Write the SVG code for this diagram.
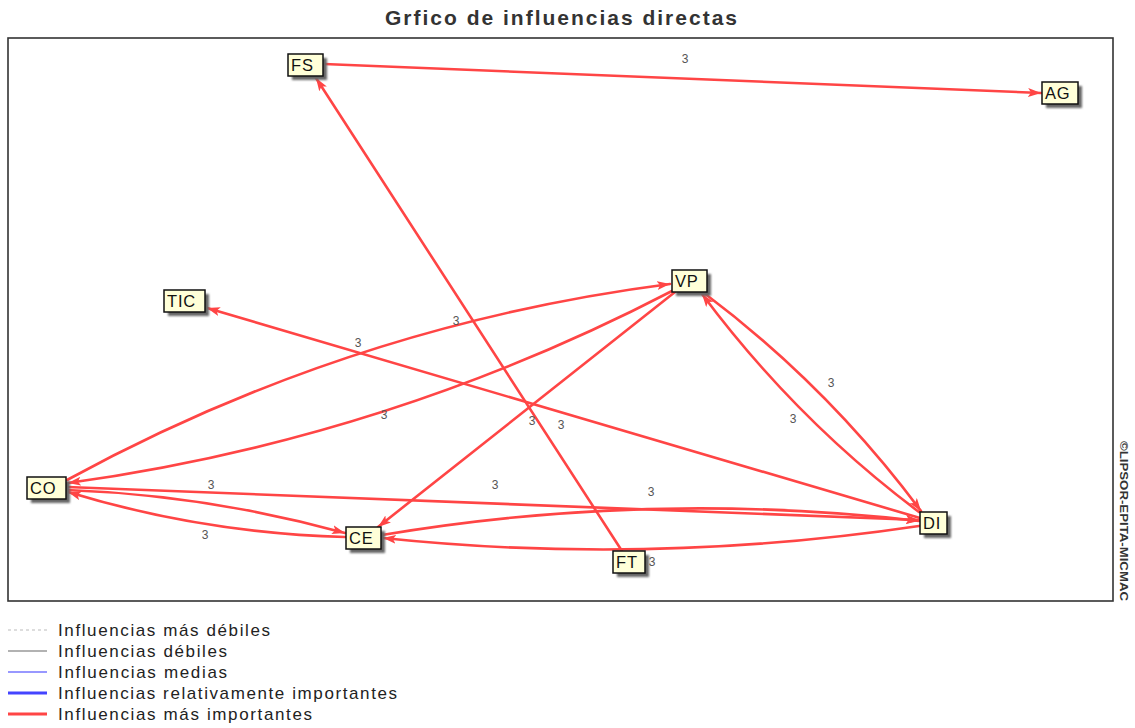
<svg xmlns="http://www.w3.org/2000/svg" width="1135" height="728" viewBox="0 0 1135 728">
<defs>
<style>
.edge{fill:none;stroke:#FF4545;stroke-width:2.6;stroke-linecap:round}
.lbl{font-family:"Liberation Sans",Arial,sans-serif;font-size:12px;fill:#555;text-anchor:middle}
.box{fill:#FFFFD8;stroke:#111;stroke-width:1.5}
.shadow{fill:#666;filter:url(#blur)}
.ntxt{font-family:"Liberation Sans",Arial,sans-serif;font-size:16.5px;fill:#111;letter-spacing:0.8px}
.leg{font-family:"Liberation Sans",Arial,sans-serif;font-size:17px;fill:#222}
</style>
<filter id="blur" x="-20%" y="-20%" width="140%" height="140%"><feGaussianBlur stdDeviation="1"/></filter>
<marker id="arr" markerUnits="userSpaceOnUse" markerWidth="16" markerHeight="10" refX="13" refY="4.5" orient="auto">
<path d="M0,0 L13,4.5 L0,9 L3,4.5 z" fill="#FF4545"/>
</marker>
</defs>
<rect x="0" y="0" width="1135" height="728" fill="#fff"/>
<text x="561" y="25" font-family="'Liberation Sans',Arial,sans-serif" font-size="21" font-weight="bold" fill="#333" text-anchor="middle" textLength="352" lengthAdjust="spacing">Grfico de influencias directas</text>
<rect x="8" y="38" width="1105" height="563" fill="none" stroke="#333" stroke-width="1.6"/>
<text transform="translate(1120,521) rotate(90)" font-family="'Liberation Sans',Arial,sans-serif" font-size="11" font-weight="bold" fill="#333" text-anchor="middle" textLength="160" lengthAdjust="spacingAndGlyphs">©LIPSOR-EPITA-MICMAC</text>
<g id="connectors">
<path class="edge" marker-end="url(#arr)" d="M324,64 L1041,93"/>
<path class="edge" marker-end="url(#arr)" d="M622,551 L316,78"/>
<path class="edge" marker-end="url(#arr)" d="M920,518 L207,308"/>
<path class="edge" marker-end="url(#arr)" d="M67,480 Q351,325 670,284"/>
<path class="edge" marker-end="url(#arr)" d="M672,291 Q387,439 68,483"/>
<path class="edge" marker-end="url(#arr)" d="M675,292 L378,527"/>
<path class="edge" marker-end="url(#arr)" d="M704,293 Q828,386 921,511"/>
<path class="edge" marker-end="url(#arr)" d="M919,512 Q796,420 702,294"/>
<path class="edge" marker-end="url(#arr)" d="M67,490 Q207,495 345,533"/>
<path class="edge" marker-end="url(#arr)" d="M345,537 Q202,533 68,492"/>
<path class="edge" marker-end="url(#arr)" d="M67,487 L919,520"/>
<path class="edge" marker-end="url(#arr)" d="M382,535 Q650,490 919,521"/>
<path class="edge" marker-end="url(#arr)" d="M919,526 Q650,566 383,538"/>
</g>
<g id="labels">
<text class="lbl" x="685" y="63">3</text>
<text class="lbl" x="358" y="347">3</text>
<text class="lbl" x="456" y="325">3</text>
<text class="lbl" x="384" y="419">3</text>
<text class="lbl" x="532" y="425">3</text>
<text class="lbl" x="561" y="429">3</text>
<text class="lbl" x="831" y="387">3</text>
<text class="lbl" x="793" y="423">3</text>
<text class="lbl" x="211" y="489">3</text>
<text class="lbl" x="495" y="489">3</text>
<text class="lbl" x="651" y="496">3</text>
<text class="lbl" x="205" y="539">3</text>
<text class="lbl" x="652" y="566">3</text>
</g>
<g id="node-FS"><rect class="shadow" x="292" y="58" width="35" height="22"/><rect class="box" x="288" y="54" width="35" height="22"/><text class="ntxt" x="291" y="71">FS</text></g>
<g id="node-AG"><rect class="shadow" x="1046" y="86" width="36" height="22"/><rect class="box" x="1042" y="82" width="36" height="22"/><text class="ntxt" x="1045" y="99">AG</text></g>
<g id="node-TIC"><rect class="shadow" x="168" y="294" width="41" height="22"/><rect class="box" x="164" y="290" width="41" height="22"/><text class="ntxt" x="167" y="307">TIC</text></g>
<g id="node-VP"><rect class="shadow" x="676" y="274" width="35" height="22"/><rect class="box" x="672" y="270" width="35" height="22"/><text class="ntxt" x="675" y="287">VP</text></g>
<g id="node-CO"><rect class="shadow" x="31" y="481" width="39" height="22"/><rect class="box" x="27" y="477" width="39" height="22"/><text class="ntxt" x="30" y="494">CO</text></g>
<g id="node-CE"><rect class="shadow" x="350" y="531" width="35" height="22"/><rect class="box" x="346" y="527" width="35" height="22"/><text class="ntxt" x="349" y="544">CE</text></g>
<g id="node-FT"><rect class="shadow" x="617" y="555" width="32" height="22"/><rect class="box" x="613" y="551" width="32" height="22"/><text class="ntxt" x="616" y="568">FT</text></g>
<g id="node-DI"><rect class="shadow" x="924" y="516" width="27" height="22"/><rect class="box" x="920" y="512" width="27" height="22"/><text class="ntxt" x="923" y="529">DI</text></g>
<g id="legend">
<line x1="8" y1="630" x2="47" y2="630" stroke="#bbb" stroke-width="1" stroke-dasharray="3,3"/>
<line x1="8" y1="651" x2="47" y2="651" stroke="#666" stroke-width="1.2"/>
<line x1="8" y1="672" x2="47" y2="672" stroke="#3333FF" stroke-width="1.2"/>
<line x1="8" y1="693" x2="47" y2="693" stroke="#4444FF" stroke-width="3"/>
<line x1="8" y1="714" x2="47" y2="714" stroke="#FF4545" stroke-width="3"/>
<text class="leg" x="58" y="636" textLength="212" lengthAdjust="spacing">Influencias más débiles</text>
<text class="leg" x="58" y="657" textLength="169" lengthAdjust="spacing">Influencias débiles</text>
<text class="leg" x="58" y="678" textLength="169" lengthAdjust="spacing">Influencias medias</text>
<text class="leg" x="58" y="699" textLength="339" lengthAdjust="spacing">Influencias relativamente importantes</text>
<text class="leg" x="58" y="720" textLength="254" lengthAdjust="spacing">Influencias más importantes</text>
</g>
</svg>
